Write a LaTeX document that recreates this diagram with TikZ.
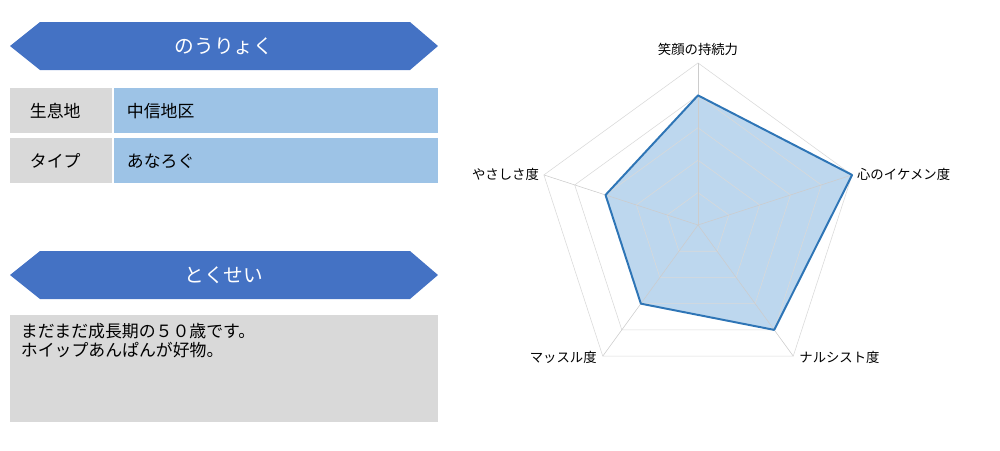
\documentclass[tikz,border=0pt]{standalone}
\usepackage{fontspec}
\setmainfont{Noto Sans CJK JP}
\usetikzlibrary{positioning}
\definecolor{banner}{HTML}{4472C4}
\definecolor{cellblue}{HTML}{9DC3E6}
\definecolor{cellgray}{HTML}{D9D9D9}
\definecolor{line}{HTML}{2E75B6}
\definecolor{fillb}{HTML}{BDD7EE}
\begin{document}
\begin{tikzpicture}[x=0.025cm, y=-0.025cm,
  head/.style = {font=\fontsize{14}{16}\selectfont, text=white},
  cell/.style = {font=\fontsize{12}{14}\selectfont, anchor=west},
  axis/.style = {font=\fontsize{9.5}{11}\selectfont}]
\useasboundingbox (0,0) rectangle (1000,450);
% banners
\fill[banner] (10,46) -- (40,22) -- (410,22) -- (438,46) -- (410,70) -- (40,70) -- cycle;
\node[head] (h1) at (224,46) {のうりょく};
\fill[banner] (10,275) -- (40,251) -- (410,251) -- (438,275) -- (410,299) -- (40,299) -- cycle;
\node[head] (h2) at (224,275) {とくせい};
% table
\fill[cellgray] (10,88) rectangle (112,133);
\fill[cellblue] (114,88) rectangle (438,133);
\fill[cellgray] (10,138) rectangle (112,183);
\fill[cellblue] (114,138) rectangle (438,183);
\node[cell] (k1) at (25,111) {生息地};
\node[cell] (v1) at (122,111) {中信地区};
\node[cell] (k2) at (25,161) {タイプ};
\node[cell] (v2) at (122,161) {あなろぐ};
% text box
\fill[cellgray] (10,315) rectangle (438,422);
\node[cell, anchor=north west, align=left] (txt) at (16,318)
  {まだまだ成長期の５０歳です。\\ホイップあんぱんが好物。};
% radar
\begin{scope}[shift={(698,225)}]
  \fill[fillb] (90:3.24cm) -- (18:4.05cm) -- (-54:3.24cm) -- (-126:2.43cm) -- (162:2.43cm) -- cycle;
  \foreach \r in {0.81,1.62,2.43,3.24,4.05}
    \draw[black!15] (90:\r cm) -- (18:\r cm) -- (-54:\r cm) -- (-126:\r cm) -- (162:\r cm) -- cycle;
  \foreach \a in {90,18,-54,-126,162}
    \draw[black!20] (0,0) -- (\a:4.05cm);
  \draw[line, line width=1.4pt, line join=round] (90:3.24cm) -- (18:4.05cm) -- (-54:3.24cm) -- (-126:2.43cm) -- (162:2.43cm) -- cycle;
  \node[axis, above] (a1) at (90:4.1cm) {笑顔の持続力};
  \node[axis, right] (a2) at (18:4.05cm) {心のイケメン度};
  \node[axis, right] (a3) at (-54:4.1cm) {ナルシスト度};
  \node[axis, left] (a4) at (-126:4.1cm) {マッスル度};
  \node[axis, left] (a5) at (162:4.05cm) {やさしさ度};
\end{scope}
\end{tikzpicture}
\end{document}
